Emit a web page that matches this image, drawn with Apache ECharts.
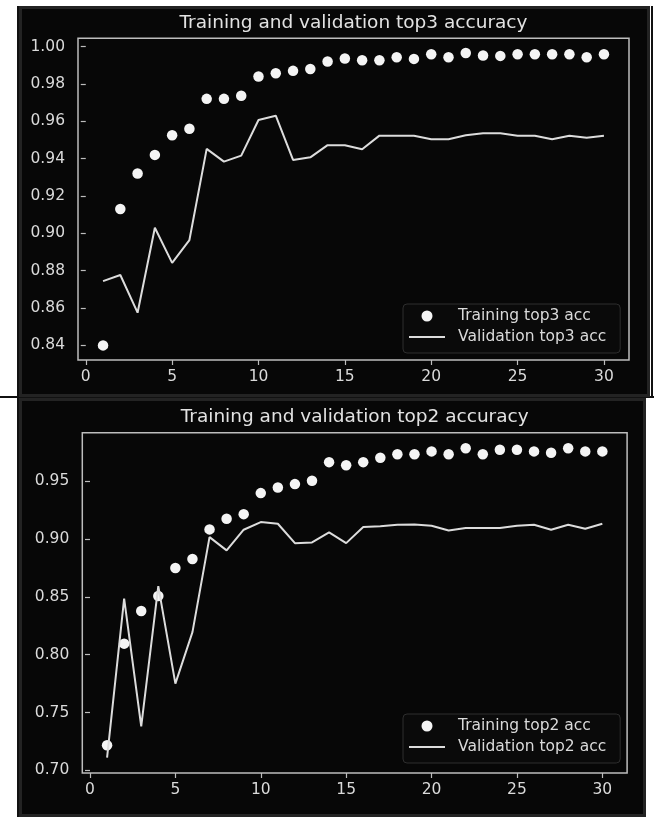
<!DOCTYPE html>
<html><head><meta charset="utf-8">
<script src="https://cdn.jsdelivr.net/npm/echarts@6/dist/echarts.min.js"></script>
<style>
html,body{margin:0;padding:0;background:#fff;}
#wrap{position:relative;width:654px;height:817px;overflow:hidden;background:#fff;}
.panel{position:absolute;background:#070707;box-sizing:border-box;border:3px solid #232323;}
.ln{position:absolute;background:#111;}
#c{position:absolute;left:0;top:0;width:654px;height:817px;}
</style>
</head><body>
<div id="wrap">
  <div class="ln" style="left:17px;top:6px;width:2px;height:811px;"></div>
  <div class="ln" style="left:0;top:396px;width:654px;height:2px;"></div>
  <div class="panel" style="left:19px;top:6px;width:631px;height:391px;"></div>
  <div class="panel" style="left:19px;top:398px;width:627px;height:419px;"></div>
  <div class="ln" style="left:651px;top:6px;width:2px;height:391px;"></div>
  <div id="c"></div>
</div>
<script>
const epochs = [1,2,3,4,5,6,7,8,9,10,11,12,13,14,15,16,17,18,19,20,21,22,23,24,25,26,27,28,29,30];
const top3Train = [0.840,0.913,0.932,0.942,0.9525,0.956,0.972,0.972,0.9737,0.984,0.9857,0.987,0.988,0.992,0.9936,0.9927,0.9927,0.9943,0.9934,0.9959,0.9943,0.9966,0.9952,0.9950,0.9959,0.9959,0.9959,0.9959,0.9943,0.9959];
const top3Val = [0.8744,0.8777,0.8575,0.9030,0.8842,0.8964,0.9452,0.9384,0.9416,0.9607,0.9630,0.9393,0.9407,0.9472,0.9472,0.9450,0.9523,0.9523,0.9523,0.9504,0.9504,0.9525,0.9536,0.9536,0.9523,0.9523,0.9504,0.9523,0.9512,0.9523];
const top2Train = [0.7216,0.8096,0.8378,0.8508,0.875,0.8828,0.9085,0.9177,0.9217,0.9399,0.9448,0.9477,0.9506,0.9667,0.9640,0.9667,0.9705,0.9736,0.9736,0.9760,0.9736,0.9788,0.9736,0.9774,0.9774,0.9760,0.9748,0.9788,0.9760,0.9760];
const top2Val = [0.711,0.8485,0.738,0.8594,0.775,0.8196,0.9018,0.8903,0.9082,0.9148,0.9134,0.8966,0.8972,0.9059,0.8966,0.9105,0.9113,0.9125,0.9128,0.9117,0.9076,0.9096,0.9096,0.9096,0.9117,0.9125,0.9082,0.9125,0.9091,0.9134];
const xTicks = [0,5,10,15,20,25,30];
const top3YTicks = [0.84,0.86,0.88,0.90,0.92,0.94,0.96,0.98,1.00];
const top2YTicks = [0.70,0.75,0.80,0.85,0.90,0.95];

function bounds(arrs){
  let lo=Infinity,hi=-Infinity;
  arrs.forEach(a=>a.forEach(v=>{if(v<lo)lo=v;if(v>hi)hi=v;}));
  const r=hi-lo; return [lo-0.05*r, hi+0.05*r];
}
const xb = bounds([epochs]);
const y3 = bounds([top3Train, top3Val]);
const y2 = bounds([top2Train, top2Val]);
const pts = (ys)=>epochs.map((e,i)=>[e, ys[i]]);

const FONT='DejaVu Sans';
const AX='#bdbdbd', TXT='#dadada', DOT='#f4f4f4', LINE='#dcdcdc';
function xAxis(g){
  return {type:'value', gridIndex:g, min:xb[0], max:xb[1],
    axisLine:{show:false},
    axisTick:{show:true, customValues:xTicks, length:5, lineStyle:{color:AX,width:1.2}},
    axisLabel:{customValues:xTicks, color:TXT, fontSize:15.5, fontFamily:FONT, margin:9},
    splitLine:{show:false}};
}
function yAxis(g, b, ticks){
  return {type:'value', gridIndex:g, min:b[0], max:b[1],
    axisLine:{show:false},
    axisTick:{show:true, customValues:ticks, length:5, lineStyle:{color:AX,width:1.2}},
    axisLabel:{customValues:ticks, color:TXT, fontSize:15.5, fontFamily:FONT, margin:13,
      formatter:(v)=>v.toFixed(2)},
    splitLine:{show:false}};
}
function legend(top, names){
  return {orient:'vertical', left:403, top:top,
    data:[{name:names[0],icon:'circle', itemStyle:{color:DOT, opacity:1}},
          {name:names[1], itemStyle:{opacity:0}}],
    itemWidth:36, itemHeight:11, itemGap:5,
    backgroundColor:'#0a0a0a', borderColor:'#2e2e2e', borderWidth:1, borderRadius:4,
    padding:[4,14,8,5],
    textStyle:{color:TXT, fontSize:15.5, fontFamily:FONT, padding:[0,0,0,8]}};
}
const chart = echarts.init(document.getElementById('c'), null, {renderer:'canvas'});
chart.setOption({
  backgroundColor:'transparent',
  animation:false,
  grid:[
    {left:78, top:38.3, width:551, height:321.7, show:true, borderColor:AX, borderWidth:1.5, backgroundColor:'transparent'},
    {left:82.3, top:432.7, width:544.8, height:340.3, show:true, borderColor:AX, borderWidth:1.5, backgroundColor:'transparent'}
  ],
  xAxis:[xAxis(0), xAxis(1)],
  yAxis:[yAxis(0,y3,top3YTicks), yAxis(1,y2,top2YTicks)],
  legend:[legend(304,['Training top3 acc','Validation top3 acc']), legend(714,['Training top2 acc','Validation top2 acc'])],
  graphic:[
    {type:'text', x:353.5, y:23, z:10, style:{text:'Training and validation top3 accuracy', fill:'#e2e2e2', font:'18.5px "DejaVu Sans"', align:'center', verticalAlign:'middle'}},
    {type:'text', x:354.7, y:417, z:10, style:{text:'Training and validation top2 accuracy', fill:'#e2e2e2', font:'18.5px "DejaVu Sans"', align:'center', verticalAlign:'middle'}}
  ],
  series:[
    {name:'Training top3 acc', type:'scatter', xAxisIndex:0, yAxisIndex:0, data:pts(top3Train), symbol:'circle', symbolSize:10.5, itemStyle:{color:DOT, opacity:1}, z:2},
    {name:'Validation top3 acc', type:'line', xAxisIndex:0, yAxisIndex:0, data:pts(top3Val), showSymbol:false, symbol:'none', lineStyle:{color:LINE, width:2}, itemStyle:{color:LINE}, z:3},
    {name:'Training top2 acc', type:'scatter', xAxisIndex:1, yAxisIndex:1, data:pts(top2Train), symbol:'circle', symbolSize:10.5, itemStyle:{color:DOT, opacity:1}, z:2},
    {name:'Validation top2 acc', type:'line', xAxisIndex:1, yAxisIndex:1, data:pts(top2Val), showSymbol:false, symbol:'none', lineStyle:{color:LINE, width:2}, itemStyle:{color:LINE}, z:3}
  ]
});
</script>
</body></html>
